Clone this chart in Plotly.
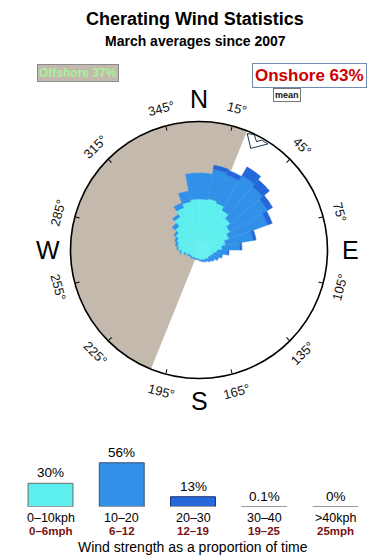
import numpy as np
import plotly.graph_objects as go

# ---------------- data ----------------
title = "Cherating Wind Statistics"
subtitle = "March averages since 2007"
offshore_pct = 37
onshore_pct = 63
offshore_from = 202   # bearing where offshore sector starts (clockwise to offshore_to)
offshore_to = 22
mean_dir = 27

bearings = list(range(5, 360, 10))
# rose sector lengths per speed bin (relative units, circle = 128.5)
rose_0_10 = [51, 52, 50, 46, 41, 36, 32, 27, 23, 18, 15, 13, 12, 12, 11, 11, 10, 10,
             9, 9, 9, 9, 10, 10, 11, 14, 18, 21, 22, 24, 27, 31, 38, 45, 49, 51]
rose_10_20 = [26, 30, 30, 40, 42, 43, 41, 28, 18, 11, 9, 8, 6, 4, 3, 2, 2, 1,
              1, 1, 1, 1, 1, 1, 1, 1, 1, 1, 2, 2, 2, 4, 3, 5, 11, 26]
rose_20_30 = [0, 4, 5, 10, 9, 6, 5, 3, 2, 1, 0, 0, 0, 0, 0, 0, 0, 0,
              0, 0, 0, 0, 0, 0, 0, 0, 0, 0, 0, 0, 0, 0, 0, 0, 0, 0]
RMAX = 128.5

tick_bearings = [15, 45, 75, 105, 135, 165, 195, 225, 255, 285, 315, 345]
cardinals = ["N", "E", "S", "W"]
cardinal_bearings = [0, 90, 180, 270]

speed_kph = ["0–10kph", "10–20", "20–30", "30–40", ">40kph"]
speed_mph = ["0–6mph", "6–12", "12–19", "19–25", "25mph"]
speed_pct = [30, 56, 13, 0.1, 0]
speed_pct_labels = ["30%", "56%", "13%", "0.1%", "0%"]

# ---------------- style ----------------
FONT = "Liberation Sans, Arial, sans-serif"
W, H = 390, 560
CX, CY, R = 199, 250, 128.5
c_cyan, c_blue, c_dark = "#5cefee", "#3190e8", "#2468da"
l_cyan, l_blue, l_dark = "#6cf2f0", "#3c97ea", "#2a6fdc"
tan = "#c4b9ad"

fig = go.Figure()

# offshore half
span = (offshore_to - offshore_from) % 360
fig.add_trace(go.Barpolar(
    r=[RMAX], theta=[offshore_from + span / 2], width=[span], base=[0],
    marker=dict(color=tan, line=dict(width=0)), subplot="polar", hoverinfo="skip"))

b0 = np.zeros(len(bearings))
for vals, col, lc in [(rose_0_10, c_cyan, l_cyan), (rose_10_20, c_blue, l_blue), (rose_20_30, c_dark, l_dark)]:
    v = np.array(vals, dtype=float)
    fig.add_trace(go.Barpolar(
        r=v, theta=bearings, base=b0.copy(), width=[10] * len(bearings),
        marker=dict(color=col, line=dict(color=lc, width=0.5)),
        subplot="polar", hoverinfo="skip"))
    b0 = b0 + v

# mean-direction arrow
arr_r = [126, 114, 126.5, 126.5, 122.7, 128, 126]
arr_t = [mean_dir + d for d in [-4.5, 0, 6, 2.7, 1, -1.5, -4.5]]
fig.add_trace(go.Scatterpolar(
    r=arr_r, theta=arr_t, mode="lines", fill="toself", fillcolor="white",
    line=dict(color="#1c3350", width=1), subplot="polar", hoverinfo="skip"))

fig.update_layout(
    polar=dict(
        domain=dict(x=[(CX - R) / W, (CX + R) / W], y=[(H - CY - R) / H, (H - CY + R) / H]),
        bgcolor="white", barmode="overlay",
        radialaxis=dict(visible=False, range=[0, RMAX]),
        angularaxis=dict(rotation=90, direction="clockwise", showgrid=False,
                         linecolor="black", linewidth=1.6, ticks="inside", ticklen=4,
                         tickcolor="black", tickmode="array", tickvals=tick_bearings,
                         showticklabels=False),
    ))

ann = []
# tick labels
for b in tick_bearings:
    rr = 146
    x = (CX + rr * np.sin(np.radians(b))) / W
    y = (H - CY + rr * np.cos(np.radians(b))) / H
    ang = b if b < 90 or b > 270 else b - 180
    if ang > 180:
        ang -= 360
    ann.append(dict(x=x, y=y, xref="paper", yref="paper", text=f"{b}°", showarrow=False,
                    textangle=ang, font=dict(family=FONT, size=13, color="#111"),
                    xanchor="center", yanchor="middle"))
for lab, b in zip(cardinals, cardinal_bearings):
    rr = 151
    x = (CX + rr * np.sin(np.radians(b))) / W
    y = (H - CY + rr * np.cos(np.radians(b))) / H
    ann.append(dict(x=x, y=y, xref="paper", yref="paper", text=lab, showarrow=False,
                    font=dict(family=FONT, size=25, color="black"),
                    xanchor="center", yanchor="middle"))

# titles
ann.append(dict(x=0.5, y=1 - 19 / H, xref="paper", yref="paper", text=f"<b>{title}</b>",
                showarrow=False, font=dict(family=FONT, size=18, color="black"),
                xanchor="center", yanchor="middle"))
ann.append(dict(x=0.5, y=1 - 41 / H, xref="paper", yref="paper", text=f"<b>{subtitle}</b>",
                showarrow=False, font=dict(family=FONT, size=14, color="black"),
                xanchor="center", yanchor="middle"))

# offshore / onshore boxes
ann.append(dict(x=77.5 / W, y=1 - 73 / H, xref="paper", yref="paper",
                text=f"<b>Offshore {offshore_pct}%</b>", showarrow=False,
                font=dict(family=FONT, size=12, color="#a8f09c"), bgcolor=tan,
                bordercolor="#8c8c8c", borderwidth=1, borderpad=1,
                xanchor="center", yanchor="middle"))
ann.append(dict(x=309 / W, y=1 - 75.5 / H, xref="paper", yref="paper",
                text=f"Onshore {onshore_pct}%", showarrow=False,
                font=dict(family=FONT, size=17, color="#cc0000", weight=600), bgcolor="white",
                bordercolor="#6f8cb0", borderwidth=1, borderpad=2,
                xanchor="center", yanchor="middle"))
ann.append(dict(x=286.5 / W, y=1 - 95.5 / H, xref="paper", yref="paper",
                text="<b>mean</b>", showarrow=False,
                font=dict(family=FONT, size=9, color="#111"), bgcolor="white",
                bordercolor="#777", borderwidth=1, borderpad=1,
                xanchor="center", yanchor="middle"))

# ---------------- speed bar chart ----------------
xs = list(range(len(speed_pct)))
fig.add_trace(go.Scatter(
    x=sum([[i - 0.32, i + 0.32, None] for i in xs], []),
    y=sum([[0, 0, None] for _ in xs], []),
    mode="lines", line=dict(color="#9a9a9a", width=2), xaxis="x", yaxis="y", hoverinfo="skip"))
fig.add_trace(go.Bar(
    x=xs, y=speed_pct, width=0.63,
    marker=dict(color=[c_cyan, c_blue, c_dark, "#9a9a9a", "#9a9a9a"],
                line=dict(color=["#6a6a6a", "#3d4f6a", "#1e3470", "#9a9a9a", "#9a9a9a"], width=1)),
    xaxis="x", yaxis="y", hoverinfo="skip"))

for i, (v, t) in enumerate(zip(speed_pct, speed_pct_labels)):
    ann.append(dict(x=i, y=v, xref="x", yref="y", text=t, showarrow=False, yanchor="bottom",
                    xanchor="center", yshift=1, font=dict(family=FONT, size=13.5, color="black")))
    ann.append(dict(x=i, y=1 - 517.5 / H, xref="x", yref="paper", text=speed_kph[i], showarrow=False,
                    xanchor="center", yanchor="middle", borderpad=0,
                    font=dict(family=FONT, size=12.5, color="black")))
    ann.append(dict(x=i, y=1 - 531 / H, xref="x", yref="paper", text=f"<b>{speed_mph[i]}</b>",
                    showarrow=False, xanchor="center", yanchor="middle", borderpad=0,
                    font=dict(family=FONT, size=11.5, color="#7a1212")))
ann.append(dict(x=0.495, y=1 - 547 / H, xref="paper", yref="paper",
                text="Wind strength as a proportion of time", showarrow=False,
                xanchor="center", yanchor="middle",
                font=dict(family=FONT, size=14, color="black")))

fig.update_layout(
    width=W, height=H, margin=dict(l=0, r=0, t=0, b=0),
    paper_bgcolor="white", plot_bgcolor="white", showlegend=False,
    xaxis=dict(domain=[0, 1], range=[-0.709, 4.765], visible=False, fixedrange=True),
    yaxis=dict(domain=[53 / H, (53 + 47.4) / H], range=[0, 60], visible=False, fixedrange=True),
    annotations=ann,
)

fig.write_html("out.html")
